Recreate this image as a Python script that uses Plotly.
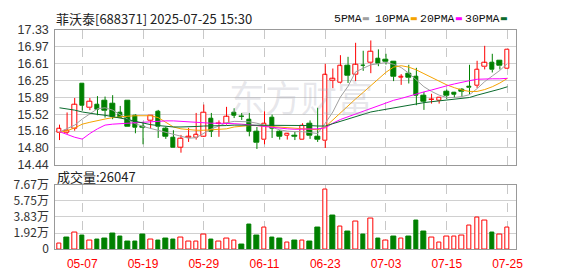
import plotly.graph_objects as go
import numpy as np

# ---------------- data ----------------
dates = ["04-29", "04-30", "05-06", "05-07", "05-08", "05-09", "05-12", "05-13", "05-14", "05-15",
         "05-16", "05-19", "05-20", "05-21", "05-22", "05-23", "05-26", "05-27", "05-28", "05-29",
         "05-30", "06-03", "06-04", "06-05", "06-06", "06-09", "06-10", "06-11", "06-12", "06-13",
         "06-16", "06-17", "06-18", "06-19", "06-20", "06-23", "06-24", "06-25", "06-26", "06-27",
         "06-30", "07-01", "07-02", "07-03", "07-04", "07-07", "07-08", "07-09", "07-10", "07-11",
         "07-14", "07-15", "07-16", "07-17", "07-18", "07-21", "07-22", "07-23", "07-24", "07-25"]

opens = [15.13, 15.13, 15.21, 16.17, 15.66, 15.73, 15.815, 15.75, 15.55, 15.815,
         15.485, 15.26, 15.385, 15.585, 15.215, 15.015, 14.815, 15.015, 15.015, 15.05,
         15.43, 15.31, 15.315, 15.55, 15.48, 15.40, 15.15, 14.97, 15.45, 15.14,
         15.07, 15.06, 14.98, 15.33, 15.035, 14.95, 16.235, 16.20, 16.55, 16.36,
         16.565, 16.615, 16.70, 16.695, 16.65, 16.31, 16.38, 16.315, 15.915, 15.83,
         15.815, 16.00, 15.99, 16.05, 16.115, 16.13, 16.535, 16.63, 16.67, 16.50]
highs = [15.30, 15.56, 15.87, 16.17, 15.87, 15.91, 15.90, 15.93, 15.70, 15.82,
         15.52, 15.36, 15.50, 15.615, 15.25, 15.18, 15.08, 15.23, 15.55, 15.73,
         15.55, 15.39, 15.68, 15.65, 15.55, 15.55, 15.25, 15.585, 15.515, 15.18,
         15.12, 15.15, 15.33, 15.39, 15.66, 16.60, 16.50, 16.785, 16.75, 17.05,
         16.88, 17.10, 16.91, 16.815, 16.65, 16.38, 16.58, 16.515, 16.00, 15.96,
         15.89, 16.05, 16.00, 16.08, 16.58, 16.665, 16.985, 16.815, 16.67, 16.905]
lows = [14.97, 15.10, 15.17, 15.60, 15.61, 15.50, 15.45, 15.415, 15.45, 15.25,
        15.115, 14.88, 15.215, 15.015, 14.995, 14.815, 14.70, 14.93, 14.98, 15.035,
        15.035, 15.04, 15.30, 15.44, 15.40, 15.05, 14.78, 14.88, 15.015, 14.98,
        14.98, 14.97, 14.98, 14.995, 14.93, 14.80, 16.08, 16.18, 16.19, 16.23,
        16.45, 16.40, 16.55, 16.585, 16.23, 16.15, 16.18, 15.715, 15.615, 15.75,
        15.75, 15.85, 15.87, 15.895, 15.95, 16.085, 16.48, 16.415, 16.48, 16.50]
closes = [15.21, 15.16, 15.73, 15.71, 15.80, 15.615, 15.595, 15.47, 15.455, 15.25,
          15.24, 15.23, 15.50, 15.25, 15.05, 14.815, 15.00, 15.05, 15.08, 15.565,
          15.15, 15.33, 15.47, 15.50, 15.47, 15.15, 14.915, 15.33, 15.215, 15.05,
          15.10, 15.05, 15.28, 15.06, 14.98, 16.36, 16.28, 16.55, 16.35, 16.58,
          16.555, 16.865, 16.60, 16.65, 16.33, 16.32, 16.30, 15.92, 15.80, 15.84,
          15.885, 15.915, 15.95, 16.00, 16.085, 16.48, 16.615, 16.47, 16.55, 16.905]
volumes = [7400, 14400, 19600, 16700, 10700, 11100, 13300, 18900, 15600, 9600,
           8900, 17800, 11900, 10700, 13300, 11100, 14100, 9600, 9600, 17400,
           11100, 9600, 13000, 10700, 5600, 29600, 16700, 26300, 14400, 12200,
           8500, 10000, 10700, 8900, 25600, 71100, 40000, 27400, 21100, 33000,
           17800, 36300, 13300, 10700, 15600, 13300, 15600, 34500, 21100, 14400,
           8500, 15600, 15600, 16700, 28500, 37800, 34500, 20000, 17800, 26047]
# 1 = rising day (red hollow volume bar), 0 = falling day (green filled)
vol_up = [1, 0, 1, 0, 1, 0, 0, 0, 0, 0,
          0, 0, 1, 0, 0, 0, 1, 1, 1, 1,
          0, 1, 1, 1, 0, 0, 0, 1, 0, 0,
          1, 0, 1, 0, 0, 1, 0, 1, 0, 1,
          0, 1, 0, 1, 0, 1, 0, 0, 0, 1,
          1, 1, 1, 1, 1, 1, 1, 0, 1, 1]
ma5 = [15.14, 15.21, 15.29, 15.42, 15.54, 15.64, 15.66, 15.61, 15.51, 15.41,
       15.32, 15.26, 15.22, 15.18, 15.14, 15.10, 15.05, 15.01, 15.02, 15.11,
       15.21, 15.27, 15.34, 15.37, 15.37, 15.36, 15.33, 15.29, 15.24, 15.19,
       15.16, 15.15, 15.15, 15.13, 15.11, 15.33, 15.57, 15.89, 16.12, 16.43,
       16.50, 16.58, 16.60, 16.63, 16.59, 16.52, 16.40, 16.26, 16.11, 16.01,
       15.93, 15.88, 15.88, 15.90, 15.94, 16.07, 16.22, 16.34, 16.46, 16.61]
ma10 = [15.13, 15.17, 15.23, 15.31, 15.35, 15.39, 15.42, 15.45, 15.47, 15.48,
        15.49, 15.49, 15.49, 15.45, 15.35, 15.25, 15.21, 15.19, 15.18, 15.18,
        15.19, 15.20, 15.21, 15.25, 15.27, 15.28, 15.28, 15.27, 15.26, 15.25,
        15.24, 15.23, 15.21, 15.20, 15.19, 15.25, 15.40, 15.57, 15.71, 15.85,
        15.99, 16.13, 16.27, 16.42, 16.53, 16.56, 16.53, 16.47, 16.39, 16.31,
        16.23, 16.15, 16.09, 16.04, 16.01, 16.01, 16.05, 16.11, 16.19, 16.29]
ma20 = [15.15, 15.09, 15.03, 14.99, 15.11, 15.21, 15.29, 15.31, 15.32, 15.33,
        15.35, 15.36, 15.37, 15.38, 15.38, 15.38, 15.37, 15.35, 15.34, 15.33,
        15.33, 15.33, 15.33, 15.32, 15.31, 15.30, 15.28, 15.26, 15.24, 15.22,
        15.21, 15.20, 15.20, 15.20, 15.21, 15.23, 15.33, 15.41, 15.47, 15.53,
        15.59, 15.65, 15.71, 15.77, 15.82, 15.86, 15.91, 15.96, 16.00, 16.04,
        16.09, 16.13, 16.17, 16.21, 16.24, 16.27, 16.28, 16.28, 16.28, 16.29]
ma30 = [15.66, 15.64, 15.61, 15.57, 15.54, 15.52, 15.50, 15.47, 15.45, 15.41,
        15.37, 15.33, 15.30, 15.28, 15.26, 15.25, 15.25, 15.25, 15.26, 15.27,
        15.27, 15.28, 15.28, 15.29, 15.29, 15.29, 15.29, 15.29, 15.29, 15.29,
        15.29, 15.29, 15.28, 15.28, 15.27, 15.27, 15.32, 15.37, 15.43, 15.48,
        15.53, 15.57, 15.60, 15.63, 15.66, 15.69, 15.72, 15.75, 15.77, 15.79,
        15.81, 15.83, 15.85, 15.86, 15.88, 15.93, 15.97, 16.01, 16.06, 16.11]

price_tick_labels = ["14.44", "14.80", "15.16", "15.52", "15.89", "16.25", "16.61", "16.97", "17.33"]
vol_tick_labels = ["0", "1.92万", "3.83万", "5.75万", "7.67万"]
date_tick_labels = ["05-07", "05-19", "05-29", "06-11", "06-23", "07-03", "07-15", "07-25"]
title_text = "菲沃泰[688371] 2025-07-25 15:30"
vol_label = "成交量:26047"
ma_names = ["5PMA", "10PMA", "20PMA", "30PMA"]

# ---------------- styles ----------------
W, H = 578, 276
RED = "#ff0000"
GREEN = "#008000"
MA_COLORS = ["#a0a0a0", "#f5a300", "#ff00ff", "#0b6b2e"]
P_LO, P_HI = 14.44, 17.33
V_HI = 76700
FONT = "Liberation Sans, Arial, sans-serif"

o = np.array(opens); c = np.array(closes); h = np.array(highs); l = np.array(lows)
up = c >= o
body_lo = np.minimum(o, c)
body_hi = np.maximum(o, c)
body_h = np.maximum(body_hi - body_lo, 0.008)

fig = go.Figure()

# candle bodies
fig.add_trace(go.Bar(
    x=dates, y=body_h, base=body_lo, width=0.6,
    marker=dict(color=["#ffffff" if u else GREEN for u in up],
                line=dict(color=[RED if u else GREEN for u in up], width=1)),
    xaxis="x", yaxis="y", hoverinfo="skip"))

# wicks (split so hollow bodies stay hollow)
for want_up, col in [(True, RED), (False, GREEN)]:
    wx, wy = [], []
    for i, d in enumerate(dates):
        if up[i] != want_up:
            continue
        wx += [d, d, None, d, d, None]
        wy += [h[i], body_hi[i], None, body_lo[i], l[i], None]
    fig.add_trace(go.Scatter(x=wx, y=wy, mode="lines", line=dict(color=col, width=1),
                             xaxis="x", yaxis="y", hoverinfo="skip", connectgaps=False))

# moving averages
for vals, col in zip([ma5, ma10, ma20, ma30], MA_COLORS):
    fig.add_trace(go.Scatter(x=dates, y=vals, mode="lines", line=dict(color=col, width=1),
                             xaxis="x", yaxis="y", hoverinfo="skip"))

# volume
fig.add_trace(go.Bar(
    x=dates, y=volumes, width=0.6,
    marker=dict(color=["#ffffff" if u else GREEN for u in vol_up],
                line=dict(color=[RED if u else GREEN for u in vol_up], width=1)),
    xaxis="x2", yaxis="y2", hoverinfo="skip"))

x0, x1 = 56, 522
py0, py1 = 21, 165
vy0, vy1 = 186, 255
xr = [-0.55, len(dates) - 1 + 1.08]

axis_common = dict(showline=True, linecolor="#999999", linewidth=1, mirror=True,
                   zeroline=False, ticks="", fixedrange=True)

fig.update_layout(
    width=W, height=H, autosize=False,
    margin=dict(l=0, r=0, t=0, b=0),
    paper_bgcolor="white", plot_bgcolor="white",
    showlegend=False, barmode="overlay", bargap=0,
    xaxis=dict(domain=[x0 / W, x1 / W], type="category", range=xr,
               categoryorder="array", categoryarray=dates,
               showgrid=True, gridcolor="#c8c8c8", griddash="dash", gridwidth=1,
               tickmode="array", tickvals=date_tick_labels, ticktext=["" for _ in date_tick_labels],
               showticklabels=False, anchor="y", **axis_common),
    yaxis=dict(domain=[1 - py1 / H, 1 - py0 / H], range=[P_LO, P_HI],
               tickmode="array", tickvals=list(np.linspace(P_LO, P_HI, len(price_tick_labels))),
               ticktext=price_tick_labels, showgrid=True, gridcolor="#d0d0d0", gridwidth=1,
               tickfont=dict(family=FONT, size=12.5, color="#333333"),
               ticklabelstandoff=3, anchor="x", **axis_common),
    xaxis2=dict(domain=[x0 / W, x1 / W], type="category", range=xr, matches="x",
                categoryorder="array", categoryarray=dates,
                showgrid=True, gridcolor="#c8c8c8", griddash="dash", gridwidth=1,
                tickmode="array", tickvals=date_tick_labels, ticktext=date_tick_labels,
                tickfont=dict(family=FONT, size=12, color=RED),
                ticklabelstandoff=3, anchor="y2", **axis_common),
    yaxis2=dict(domain=[1 - vy1 / H, 1 - vy0 / H], range=[0, V_HI],
                tickmode="array", tickvals=list(np.linspace(0, V_HI, len(vol_tick_labels))),
                ticktext=vol_tick_labels, showgrid=True, gridcolor="#d0d0d0", gridwidth=1,
                tickfont=dict(family="Noto Sans CJK SC, " + FONT, size=12, color="#333333"),
                ticklabelstandoff=3, anchor="x2", **axis_common),
)

ann = []
# watermark
ann.append(dict(text="东方财富", x=305 / W, y=1 - 92 / H, xref="paper", yref="paper",
                showarrow=False, xanchor="center", yanchor="middle",
                font=dict(family="Noto Sans CJK SC", size=36, color="rgba(170,170,185,0.28)")))
# title
ann.append(dict(text=title_text, x=55 / W, y=1 - 9 / H, xref="paper", yref="paper",
                showarrow=False, xanchor="left", yanchor="middle",
                font=dict(family="Noto Sans CJK SC, " + FONT, size=13, color="#222222")))
# volume label
ann.append(dict(text=vol_label, x=56 / W, y=1 - 177 / H, xref="paper", yref="paper",
                showarrow=False, xanchor="left", yanchor="middle",
                font=dict(family="Noto Sans CJK SC, " + FONT, size=13, color="#222222")))
# MA legend: label text, then a short coloured dash
leg_text_x = [336, 378, 423, 469]
leg_dash_x = [364, 413, 459, 504]
for name, col, tx, dx in zip(ma_names, MA_COLORS, leg_text_x, leg_dash_x):
    ann.append(dict(text=name, x=tx / W, y=1 - 9 / H,
                    xref="paper", yref="paper", showarrow=False, xanchor="left", yanchor="middle",
                    font=dict(family="Liberation Mono, monospace", size=11.5, color="#111111")))
    ann.append(dict(text="▬", x=dx / W, y=1 - 9 / H,
                    xref="paper", yref="paper", showarrow=False, xanchor="left", yanchor="middle",
                    font=dict(family="DejaVu Sans", size=8, color=col)))
fig.update_layout(annotations=ann)

fig.write_html("out.html")
